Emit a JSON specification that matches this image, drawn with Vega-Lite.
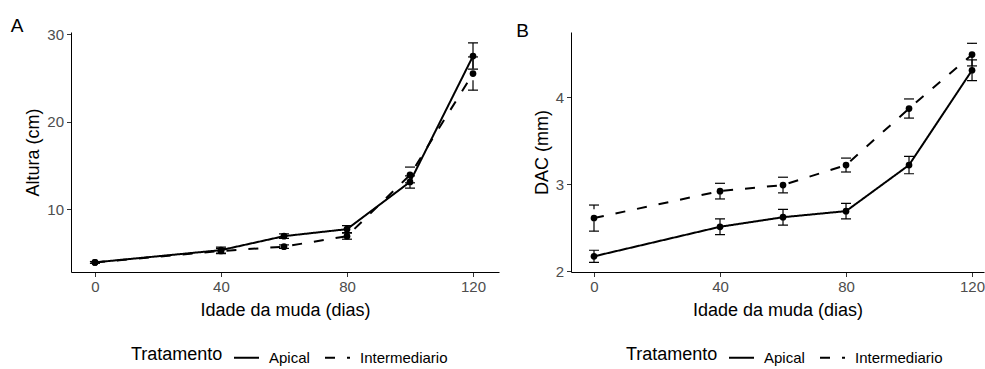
{
  "$schema": "https://vega.github.io/schema/vega-lite/v6.json",
  "background": "white",
  "padding": {"left": 10, "top": 17, "right": 0, "bottom": 0},
  "datasets": {
    "d": [
      {"painel": "A", "trat": "Apical", "dias": 0, "media": 3.9, "lo": 3.8, "hi": 4.0},
      {"painel": "A", "trat": "Apical", "dias": 40, "media": 5.3, "lo": 4.95, "hi": 5.65},
      {"painel": "A", "trat": "Apical", "dias": 60, "media": 6.9, "lo": 6.65, "hi": 7.15},
      {"painel": "A", "trat": "Apical", "dias": 80, "media": 7.7, "lo": 7.3, "hi": 8.1},
      {"painel": "A", "trat": "Apical", "dias": 100, "media": 13.1, "lo": 12.4, "hi": 13.8},
      {"painel": "A", "trat": "Apical", "dias": 120, "media": 27.5, "lo": 26.0, "hi": 29.0},
      {"painel": "A", "trat": "Intermediario", "dias": 0, "media": 3.9, "lo": 3.8, "hi": 4.0},
      {"painel": "A", "trat": "Intermediario", "dias": 40, "media": 5.2, "lo": 4.9, "hi": 5.5},
      {"painel": "A", "trat": "Intermediario", "dias": 60, "media": 5.7, "lo": 5.5, "hi": 5.9},
      {"painel": "A", "trat": "Intermediario", "dias": 80, "media": 6.9, "lo": 6.55, "hi": 7.25},
      {"painel": "A", "trat": "Intermediario", "dias": 100, "media": 13.9, "lo": 13.0, "hi": 14.8},
      {"painel": "A", "trat": "Intermediario", "dias": 120, "media": 25.5, "lo": 23.6, "hi": 27.4},
      {"painel": "B", "trat": "Apical", "dias": 0, "media": 2.17, "lo": 2.1, "hi": 2.24},
      {"painel": "B", "trat": "Apical", "dias": 40, "media": 2.51, "lo": 2.42, "hi": 2.6},
      {"painel": "B", "trat": "Apical", "dias": 60, "media": 2.62, "lo": 2.53, "hi": 2.71},
      {"painel": "B", "trat": "Apical", "dias": 80, "media": 2.69, "lo": 2.6, "hi": 2.78},
      {"painel": "B", "trat": "Apical", "dias": 100, "media": 3.22, "lo": 3.12, "hi": 3.32},
      {"painel": "B", "trat": "Apical", "dias": 120, "media": 4.31, "lo": 4.19, "hi": 4.43},
      {"painel": "B", "trat": "Intermediario", "dias": 0, "media": 2.61, "lo": 2.46, "hi": 2.76},
      {"painel": "B", "trat": "Intermediario", "dias": 40, "media": 2.92, "lo": 2.83, "hi": 3.01},
      {"painel": "B", "trat": "Intermediario", "dias": 60, "media": 2.99, "lo": 2.9, "hi": 3.08},
      {"painel": "B", "trat": "Intermediario", "dias": 80, "media": 3.22, "lo": 3.14, "hi": 3.3},
      {"painel": "B", "trat": "Intermediario", "dias": 100, "media": 3.87, "lo": 3.76, "hi": 3.98},
      {"painel": "B", "trat": "Intermediario", "dias": 120, "media": 4.49, "lo": 4.36, "hi": 4.62}
    ]
  },
  "spacing": 17,
  "hconcat": [
    {
      "title": {"text": "A", "anchor": "start", "frame": "bounds", "dx": -14, "dy": 11, "offset": 2},
      "width": 428,
      "height": 240,
      "data": {"name": "d"},
      "transform": [{"filter": "datum.painel == 'A'"}],
      "encoding": {
        "x": {"field": "dias", "type": "quantitative", "scale": {"domain": [-7.6, 128.25], "nice": false, "zero": false}, "axis": {"values": [0, 40, 80, 120], "title": "Idade da muda (dias)"}},
        "strokeDash": {"field": "trat", "type": "nominal", "scale": {"domain": ["Apical", "Intermediario"], "range": [[1, 0], [10, 12]]},
          "legend": {"title": "Tratamento", "orient": "none", "legendX": 60, "legendY": 312}}
      },
      "layer": [
        {"mark": {"type": "line", "color": "black", "strokeWidth": 2}, "encoding": {"y": {"field": "media", "type": "quantitative", "scale": {"domain": [2.8, 30.25], "nice": false, "zero": false}, "axis": {"values": [10, 20, 30], "title": "Altura (cm)", "format": "d"}}}},
        {"mark": {"type": "rule", "color": "black", "strokeWidth": 1.2}, "encoding": {"y": {"field": "lo", "type": "quantitative"}, "y2": {"field": "hi"}}},
        {"mark": {"type": "point", "shape": "M-1,0H1", "size": 100, "filled": false, "color": "black", "strokeWidth": 1.2, "opacity": 1}, "encoding": {"y": {"field": "lo", "type": "quantitative"}}},
        {"mark": {"type": "point", "shape": "M-1,0H1", "size": 100, "filled": false, "color": "black", "strokeWidth": 1.2, "opacity": 1}, "encoding": {"y": {"field": "hi", "type": "quantitative"}}},
        {"mark": {"type": "point", "shape": "circle", "size": 45, "filled": true, "color": "black", "opacity": 1}, "encoding": {"y": {"field": "media", "type": "quantitative"}, "strokeDash": {"value": [1, 0]}}}
      ]
    },
    {
      "title": {"text": "B", "anchor": "start", "frame": "bounds", "dx": -17, "dy": 11, "offset": 2},
      "width": 413,
      "height": 240,
      "data": {"name": "d"},
      "transform": [{"filter": "datum.painel == 'B'"}],
      "encoding": {
        "x": {"field": "dias", "type": "quantitative", "scale": {"domain": [-7.3, 123.8], "nice": false, "zero": false}, "axis": {"values": [0, 40, 80, 120], "title": "Idade da muda (dias)"}},
        "strokeDash": {"field": "trat", "type": "nominal", "scale": {"domain": ["Apical", "Intermediario"], "range": [[1, 0], [10, 12]]},
          "legend": {"title": "Tratamento", "orient": "none", "legendX": 55, "legendY": 312}}
      },
      "layer": [
        {"mark": {"type": "line", "color": "black", "strokeWidth": 2}, "encoding": {"y": {"field": "media", "type": "quantitative", "scale": {"domain": [1.99, 4.75], "nice": false, "zero": false}, "axis": {"values": [2, 3, 4], "title": "DAC (mm)", "format": "d"}}}},
        {"mark": {"type": "rule", "color": "black", "strokeWidth": 1.2}, "encoding": {"y": {"field": "lo", "type": "quantitative"}, "y2": {"field": "hi"}}},
        {"mark": {"type": "point", "shape": "M-1,0H1", "size": 100, "filled": false, "color": "black", "strokeWidth": 1.2, "opacity": 1}, "encoding": {"y": {"field": "lo", "type": "quantitative"}}},
        {"mark": {"type": "point", "shape": "M-1,0H1", "size": 100, "filled": false, "color": "black", "strokeWidth": 1.2, "opacity": 1}, "encoding": {"y": {"field": "hi", "type": "quantitative"}}},
        {"mark": {"type": "point", "shape": "circle", "size": 45, "filled": true, "color": "black", "opacity": 1}, "encoding": {"y": {"field": "media", "type": "quantitative"}, "strokeDash": {"value": [1, 0]}}}
      ]
    }
  ],
  "resolve": {"scale": {"x": "independent", "y": "independent", "strokeDash": "independent"}, "legend": {"strokeDash": "independent"}},
  "config": {
    "font": "Liberation Sans",
    "view": {"stroke": null},
    "title": {"fontSize": 19, "fontWeight": "normal", "color": "black", "font": "Liberation Sans"},
    "axis": {
      "grid": false,
      "domainColor": "black",
      "domainWidth": 1,
      "tickColor": "#333333",
      "tickSize": 4.5,
      "labelColor": "#4D4D4D",
      "labelFontSize": 15,
      "labelPadding": 3,
      "titleFontSize": 18,
      "titleFontWeight": "normal",
      "titleColor": "black",
      "titlePadding": 4
    },
    "axisX": {"titlePadding": 7},
    "legend": {
      "direction": "horizontal",
      "titleOrient": "left",
      "titleAnchor": "middle",
      "titleBaseline": "middle",
      "titleFontSize": 18,
      "titleFontWeight": "normal",
      "titleColor": "black",
      "titlePadding": 10,
      "labelFontSize": 15,
      "labelColor": "black",
      "labelOffset": 9,
      "columnPadding": 11,
      "symbolType": "stroke",
      "symbolSize": 625,
      "symbolStrokeWidth": 2,
      "symbolStrokeColor": "black"
    }
  }
}
